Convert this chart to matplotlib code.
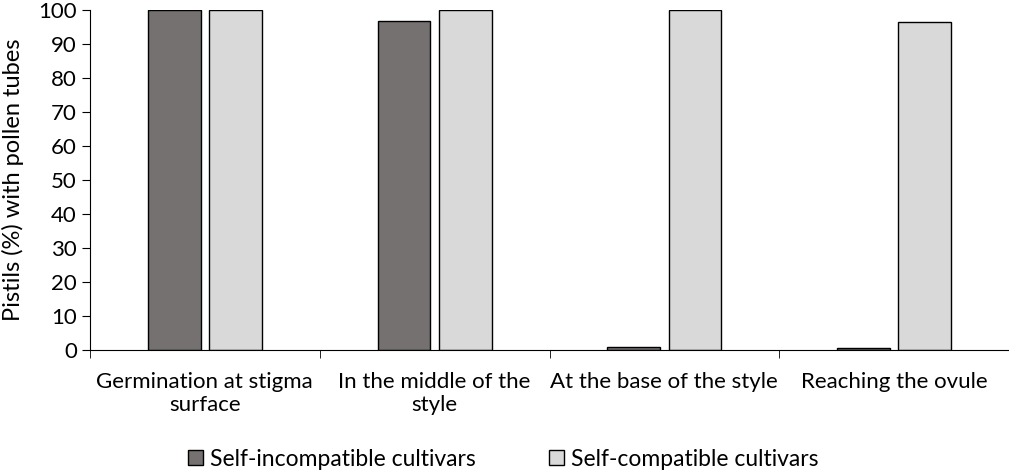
import numpy as np
import matplotlib.pyplot as plt

categories = ['Germination at stigma\nsurface', 'In the middle of the\nstyle',
              'At the base of the style', 'Reaching the ovule']
self_incompatible = [100, 96.8, 0.9, 0.6]
self_compatible = [100, 100, 100, 96.6]

plt.rcParams['font.family'] = ['Lato', 'DejaVu Sans']

fig = plt.figure(figsize=(10.09, 4.72), dpi=100)
ax = fig.add_axes([90 / 1009, 1 - 350 / 472, 919 / 1009, 340 / 472])

x = np.arange(len(categories))
w = 0.23
ax.bar(x - 0.133, self_incompatible, w, color='#767171', edgecolor='black',
       linewidth=1, label='Self-incompatible cultivars')
ax.bar(x + 0.133, self_compatible, w, color='#d9d9d9', edgecolor='black',
       linewidth=1, label='Self-compatible cultivars')

ax.set_xlim(-0.5, len(categories) - 0.5)
ax.set_ylim(0, 100)
ax.set_yticks(np.arange(0, 101, 10))
ax.set_xticks(x)
ax.set_xticklabels(categories, fontsize=16)
ax.tick_params(axis='x', which='major', length=0, pad=16)
ax.set_xticks(np.arange(-0.5, len(categories), 1), minor=True)
ax.tick_params(axis='x', which='minor', length=6, direction='out')
ax.tick_params(axis='y', labelsize=16, length=6, direction='out')
for s in ['top', 'right']:
    ax.spines[s].set_visible(False)
ax.set_ylabel('Pistils (%) with pollen tubes', fontsize=17)
ax.yaxis.set_label_coords(-0.072, 0.5)

fig.legend(loc='center', bbox_to_anchor=(503 / 1009, 1 - 459 / 472), ncol=2,
           frameon=False, fontsize=16.5, handlelength=0.65, handleheight=0.65,
           handletextpad=0.3, columnspacing=3.2)

fig.savefig('out.png', dpi=100)
